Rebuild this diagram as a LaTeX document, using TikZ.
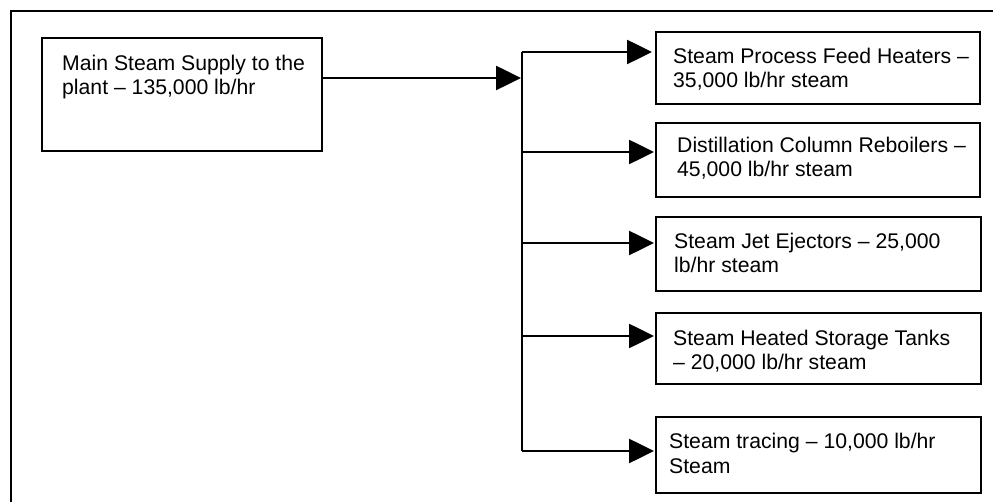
\documentclass[tikz,border=0pt]{standalone}
\usepackage{fontspec}
\setmainfont{Liberation Sans}
\usetikzlibrary{arrows.meta}
\tikzset{
  box/.style={draw, line width=1.8pt, inner sep=0pt, outer sep=0pt, anchor=north west},
  lbl/.style={anchor=base west, align=left, inner sep=0pt, font=\fontsize{21.2}{24.8}\selectfont},
  conn/.style={line width=2.6pt},
  arr/.style={conn, -{Triangle[length=25pt, width=24pt]}},
}
\begin{document}
\begin{tikzpicture}[x=1pt, y=-1pt]
\useasboundingbox (0,0) rectangle (993,502);
% outer frame (cropped at right and bottom)
\draw[line width=2pt] (11,502) -- (11,11) -- (993,11);

% boxes
\node[box, minimum width=280pt, minimum height=113pt] (main) at (42,38) {};
\node[box, minimum width=324pt, minimum height=72pt] (b1) at (656,32) {};
\node[box, minimum width=324pt, minimum height=74pt] (b2) at (656,123) {};
\node[box, minimum width=325pt, minimum height=74pt] (b3) at (656,217) {};
\node[box, minimum width=325pt, minimum height=71pt] (b4) at (656,313) {};
\node[box, minimum width=325pt, minimum height=76pt] (b5) at (656,417) {};

% texts (anchor = baseline of the last line)
\node[lbl] (tmain) at (62,95) {Main Steam Supply to the\\plant – 135,000 lb/hr};
\node[lbl] (t1) at (673,88) {Steam Process Feed Heaters –\\35,000 lb/hr steam};
\node[lbl] (t2) at (677,177) {Distillation Column Reboilers –\\45,000 lb/hr steam};
\node[lbl] (t3) at (674,273) {Steam Jet Ejectors – 25,000\\lb/hr steam};
\node[lbl] (t4) at (673,370) {Steam Heated Storage Tanks\\– 20,000 lb/hr steam};
\node[lbl] (t5) at (669,473) {Steam tracing – 10,000 lb/hr\\Steam};

% bus coordinates
\coordinate (busin) at (521,78);
\coordinate (j1) at (522,52);
\coordinate (j2) at (522,152);
\coordinate (j3) at (522,243);
\coordinate (j4) at (522,336);
\coordinate (j5) at (522,451);

% connectors
\draw[arr] (main.east |- busin) -- (busin);
\draw[conn] (j1) -- (j5);
\draw[arr] (j1) -- ([xshift=-4pt]b1.west |- j1);
\draw[arr] (j2) -- ([xshift=-2pt]b2.west |- j2);
\draw[arr] (j3) -- ([xshift=-2pt]b3.west |- j3);
\draw[arr] (j4) -- ([xshift=-2pt]b4.west |- j4);
\draw[arr] (j5) -- ([xshift=-2pt]b5.west |- j5);
\end{tikzpicture}
\end{document}
